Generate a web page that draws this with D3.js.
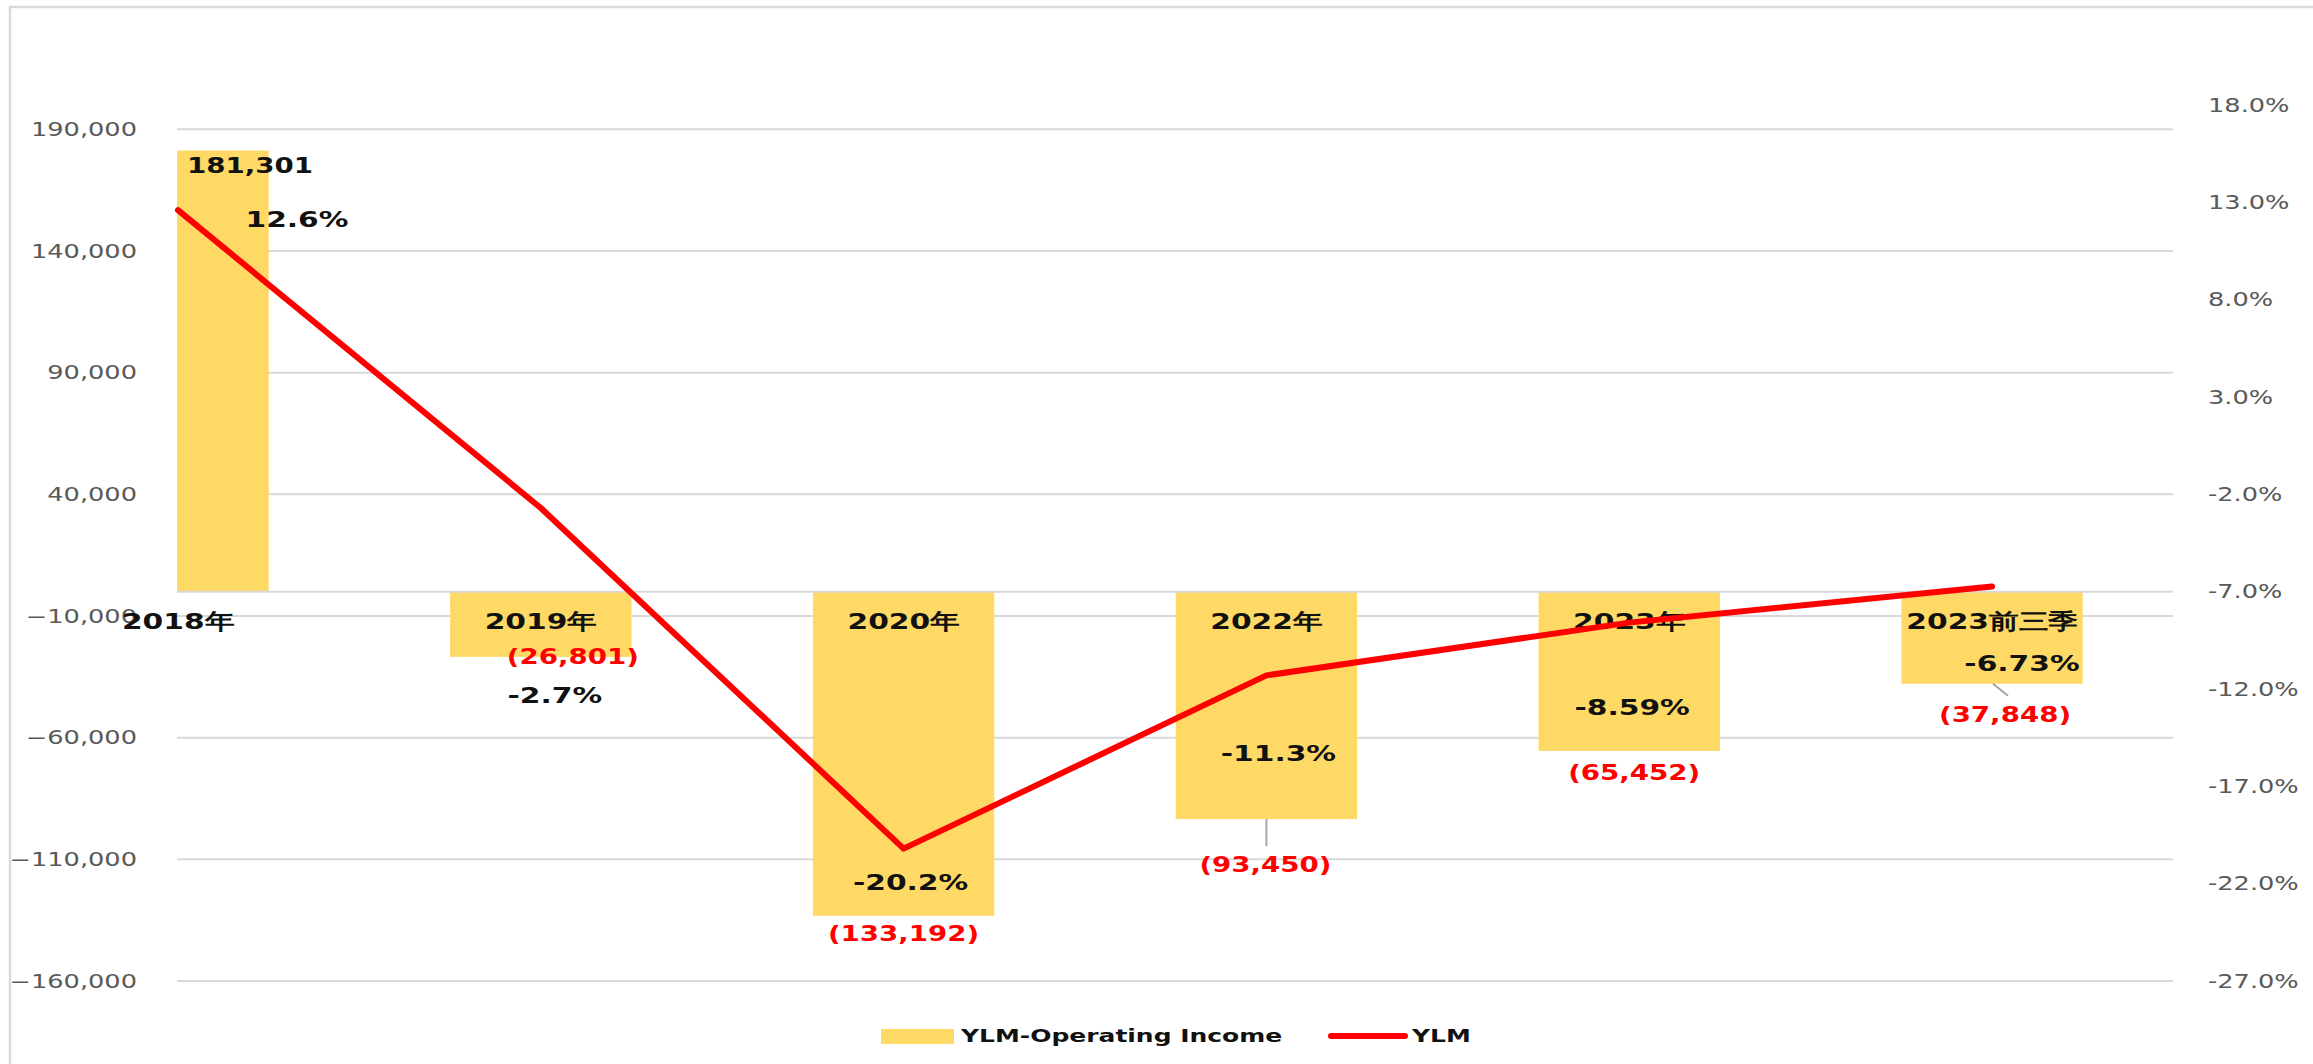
<!DOCTYPE html>
<html lang="zh">
<head>
    <meta charset="UTF-8">
    <title>YLM Operating Income</title>
    <style>
        body {
            margin: 0;
            background: #fff;
        }
        text {
            font-family: "DejaVu Sans", Verdana, sans-serif;
        }
    </style>
</head>
<body>
<script src="https://cdnjs.cloudflare.com/ajax/libs/d3/7.8.5/d3.min.js"></script>
<script>
    const width = 2313;
    const height = 1064;

    // data
    const categories = ['2018年', '2019年', '2020年', '2022年', '2023年', '2023前三季'];
    const income = [181301, -26801, -133192, -93450, -65452, -37848];
    const margin = [12.6, -2.7, -20.2, -11.3, -8.59, -6.73];
    const marginText = ['12.6%', '-2.7%', '-20.2%', '-11.3%', '-8.59%', '-6.73%'];
    const leftTicks = d3.range(-160000, 190001, 50000);
    const rightTicks = d3.range(-27, 18.01, 5);

    const COLORS = {
        bar: '#FFD966',
        line: '#FF0000',
        grid: '#D9D9D9',
        axisText: '#595959',
        leader: '#A6A6A6'
    };

    // the picture is stretched sideways, so text is too
    const STRETCH = 1.35;

    const PLOT = {left: 177, right: 2173, top: 105, bottom: 981};

    const x = d3.scalePoint()
        .domain(categories)
        .range([178, 1992]);
    const barWidth = x.step() * 0.5;

    const yL = d3.scaleLinear()
        .domain([-160000, 200000])
        .range([PLOT.bottom, PLOT.top]);
    const yR = d3.scaleLinear()
        .domain([-27, 18])
        .range([PLOT.bottom, PLOT.top]);

    // label nudges (px) relative to the mark they belong to
    const valueNudge = [[72, 15], [32, 0], [0, 18], [-1, 46], [5, 22], [13, 31]];
    const pctNudge = [[119, 9], [14, 187], [7, 34], [12, 78], [3, 85], [30, 77]];

    const fmt = d3.format(',');
    const valueText = v => v < 0 ? '(' + fmt(-v) + ')' : fmt(v);

    const svg = d3.select('body').append('svg')
        .attr('width', width)
        .attr('height', height);

    function stretchedText(g, px, py, str) {
        return g.append('text')
            .attr('transform', `translate(${px},${py}) scale(${STRETCH},1)`)
            .attr('dominant-baseline', 'central')
            .text(str);
    }

    // chart frame
    svg.append('rect')
        .attr('x', 10).attr('y', 7)
        .attr('width', width + 20).attr('height', height + 20)
        .attr('fill', '#fff')
        .attr('stroke', COLORS.grid)
        .attr('stroke-width', 2.5);

    svg.append('clipPath').attr('id', 'plot-clip')
        .append('rect')
        .attr('x', PLOT.left).attr('y', 0)
        .attr('width', PLOT.right - PLOT.left).attr('height', height);

    // gridlines
    svg.append('g').selectAll('line')
        .data(leftTicks)
        .join('line')
        .attr('x1', PLOT.left).attr('x2', PLOT.right)
        .attr('y1', d => yL(d)).attr('y2', d => yL(d))
        .attr('stroke', COLORS.grid)
        .attr('stroke-width', 2);

    // left axis labels
    const leftAxis = svg.append('g')
        .attr('fill', COLORS.axisText)
        .attr('font-size', 19)
        .attr('text-anchor', 'end');
    leftTicks.forEach(t => stretchedText(leftAxis, 137, yL(t), fmt(t)));

    // right axis labels
    const rightAxis = svg.append('g')
        .attr('fill', COLORS.axisText)
        .attr('font-size', 19)
        .attr('text-anchor', 'start');
    rightTicks.forEach(t => stretchedText(rightAxis, 2208, yR(t), t.toFixed(1) + '%'));

    // bars
    svg.append('g')
        .attr('clip-path', 'url(#plot-clip)')
        .selectAll('rect')
        .data(income)
        .join('rect')
        .attr('x', (d, i) => x(categories[i]) - barWidth / 2)
        .attr('width', barWidth)
        .attr('y', d => yL(Math.max(0, d)))
        .attr('height', d => Math.abs(yL(d) - yL(0)))
        .attr('fill', COLORS.bar);

    // category axis line
    svg.append('line')
        .attr('x1', PLOT.left).attr('x2', PLOT.right)
        .attr('y1', yL(0)).attr('y2', yL(0))
        .attr('stroke', COLORS.grid)
        .attr('stroke-width', 2);

    // category labels
    const catLabels = svg.append('g')
        .attr('font-size', 22)
        .attr('font-weight', 'bold')
        .attr('fill', '#111')
        .attr('text-anchor', 'middle');
    categories.forEach(c => stretchedText(catLabels, x(c), yL(0) + 30, c));

    // margin line
    const line = d3.line()
        .x((d, i) => x(categories[i]))
        .y(d => yR(d));
    svg.append('path')
        .datum(margin)
        .attr('d', line)
        .attr('fill', 'none')
        .attr('stroke', COLORS.line)
        .attr('stroke-width', 6)
        .attr('stroke-linejoin', 'round')
        .attr('stroke-linecap', 'round');

    // leader lines for labels pulled away from their bars
    const leaders = svg.append('g')
        .attr('stroke', COLORS.leader)
        .attr('stroke-width', 2);
    leaders.append('line')
        .attr('x1', x(categories[3])).attr('x2', x(categories[3]))
        .attr('y1', yL(income[3])).attr('y2', yL(income[3]) + 27);
    leaders.append('line')
        .attr('x1', x(categories[5]) + 1).attr('x2', x(categories[5]) + 16)
        .attr('y1', yL(income[5])).attr('y2', yL(income[5]) + 12);

    // value labels
    const valueLabels = svg.append('g')
        .attr('font-size', 20.5)
        .attr('font-weight', 'bold')
        .attr('text-anchor', 'middle');
    income.forEach((v, i) => {
        stretchedText(valueLabels,
            x(categories[i]) + valueNudge[i][0],
            yL(v) + valueNudge[i][1],
            valueText(v))
            .attr('fill', v < 0 ? COLORS.line : '#111');
    });

    // margin labels
    const pctLabels = svg.append('g')
        .attr('font-size', 22)
        .attr('font-weight', 'bold')
        .attr('fill', '#111')
        .attr('text-anchor', 'middle');
    margin.forEach((m, i) => {
        stretchedText(pctLabels,
            x(categories[i]) + pctNudge[i][0],
            yR(m) + pctNudge[i][1],
            marginText[i]);
    });

    // legend
    const legend = svg.append('g')
        .attr('font-size', 18.5)
        .attr('font-weight', 'bold')
        .attr('fill', '#111');
    legend.append('rect')
        .attr('x', 881).attr('y', 1029)
        .attr('width', 73).attr('height', 15)
        .attr('fill', COLORS.bar);
    stretchedText(legend, 961, 1036, 'YLM-Operating Income');
    legend.append('line')
        .attr('x1', 1331).attr('x2', 1405)
        .attr('y1', 1036).attr('y2', 1036)
        .attr('stroke', COLORS.line)
        .attr('stroke-width', 6)
        .attr('stroke-linecap', 'round');
    stretchedText(legend, 1412, 1036, 'YLM');
</script>
</body>
</html>
